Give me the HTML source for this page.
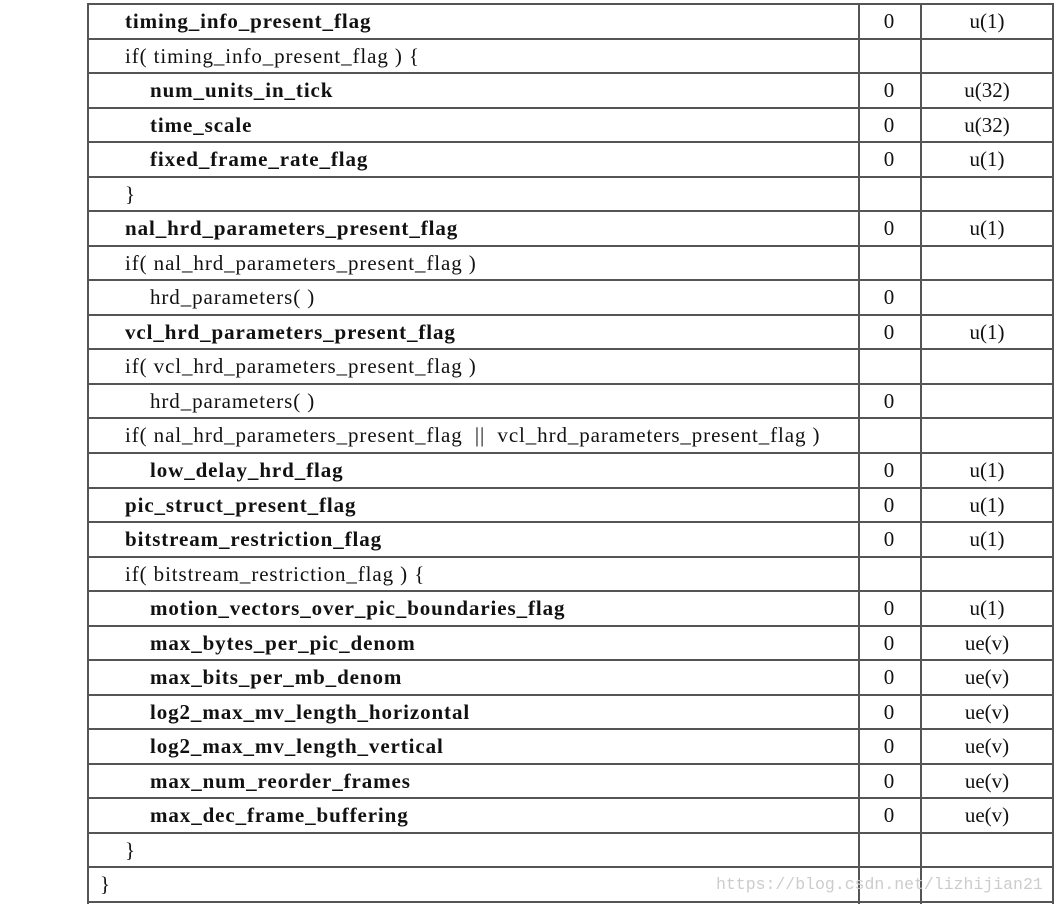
<!DOCTYPE html>
<html><head><style>
body{margin:0;width:1058px;height:904px;background:#fff;position:relative;overflow:hidden;font-family:"Liberation Serif",serif;font-size:21px;letter-spacing:0.9px;color:#111}
.h{position:absolute;left:87px;width:967px;height:2px;background:#555}
.v{position:absolute;top:4px;height:900px;width:2px;background:#555}
.t{position:absolute;white-space:pre;line-height:20px}
.b{font-weight:bold}
.c{position:absolute;width:60px;text-align:center;line-height:20px;letter-spacing:0}
.d{position:absolute;width:132px;text-align:center;line-height:20px;letter-spacing:0}
.wm{position:absolute;left:716px;top:875px;font-family:"Liberation Mono",monospace;font-size:16.5px;letter-spacing:0;color:#ccc;white-space:pre}
</style></head><body>
<div id="g"></div>
<div class="wm">https://blog.csdn.net/lizhijian21</div>
<script>
var rows=[
["timing_info_present_flag",1,1,"0","u(1)"],
["if( timing_info_present_flag ) {",1,0,"",""],
["num_units_in_tick",2,1,"0","u(32)"],
["time_scale",2,1,"0","u(32)"],
["fixed_frame_rate_flag",2,1,"0","u(1)"],
["}",1,0,"",""],
["nal_hrd_parameters_present_flag",1,1,"0","u(1)"],
["if( nal_hrd_parameters_present_flag )",1,0,"",""],
["hrd_parameters( )",2,0,"0",""],
["vcl_hrd_parameters_present_flag",1,1,"0","u(1)"],
["if( vcl_hrd_parameters_present_flag )",1,0,"",""],
["hrd_parameters( )",2,0,"0",""],
["if( nal_hrd_parameters_present_flag  ||  vcl_hrd_parameters_present_flag )",1,0,"",""],
["low_delay_hrd_flag",2,1,"0","u(1)"],
["pic_struct_present_flag",1,1,"0","u(1)"],
["bitstream_restriction_flag",1,1,"0","u(1)"],
["if( bitstream_restriction_flag ) {",1,0,"",""],
["motion_vectors_over_pic_boundaries_flag",2,1,"0","u(1)"],
["max_bytes_per_pic_denom",2,1,"0","ue(v)"],
["max_bits_per_mb_denom",2,1,"0","ue(v)"],
["log2_max_mv_length_horizontal",2,1,"0","ue(v)"],
["log2_max_mv_length_vertical",2,1,"0","ue(v)"],
["max_num_reorder_frames",2,1,"0","ue(v)"],
["max_dec_frame_buffering",2,1,"0","ue(v)"],
["}",1,0,"",""],
["}",0,0,"",""]];
var h="",rh=898/26;
for(var i=0;i<=26;i++){h+='<div class="h" style="top:'+Math.round(3+i*rh)+'px"></div>';}
[87,858,920,1052].forEach(function(x){h+='<div class="v" style="left:'+x+'px"></div>';});
rows.forEach(function(r,i){
 var y=Math.round(4+i*rh+7);
 var x=[100,125,150][r[1]];
 h+='<div class="t'+(r[2]?' b':'')+'" style="left:'+x+'px;top:'+y+'px">'+r[0]+'</div>';
 if(r[3])h+='<div class="c" style="left:859px;top:'+y+'px">'+r[3]+'</div>';
 if(r[4])h+='<div class="d" style="left:921px;top:'+y+'px">'+r[4]+'</div>';
});
document.getElementById("g").innerHTML=h;
</script>
</body></html>
